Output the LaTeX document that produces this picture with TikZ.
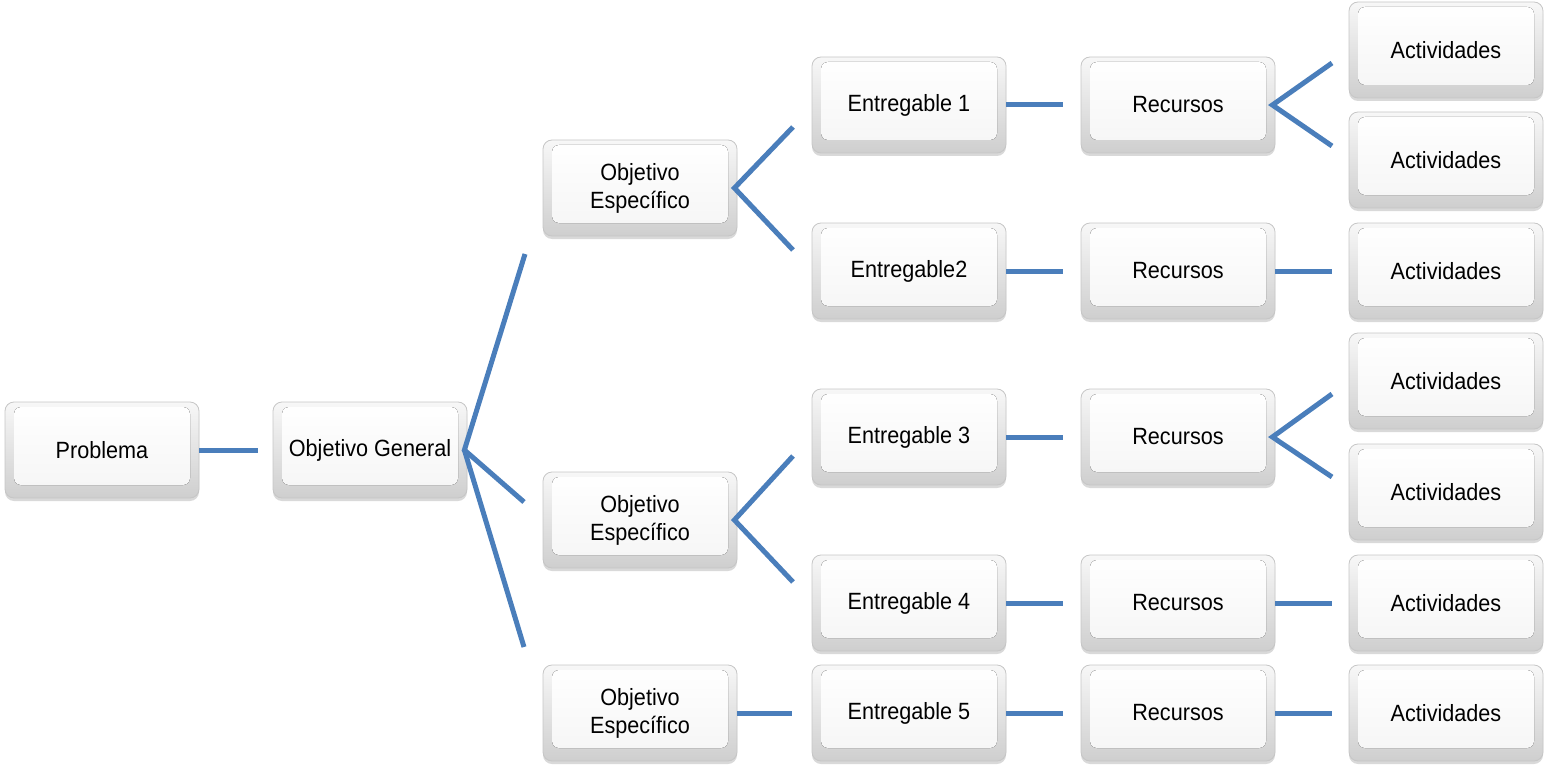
\documentclass[tikz,border=0pt]{standalone}
\usepackage{fontspec}
\setmainfont[FakeStretch=0.92]{Liberation Sans}
\usetikzlibrary{shadows}
\definecolor{linkblue}{RGB}{74,126,187}
\tikzset{
  key/.style={
    rounded corners=9pt, minimum width=194pt, minimum height=96pt,
    draw=gray!45, line width=0.8pt, top color=gray!6, bottom color=gray!38,
    align=center, inner sep=0pt,
    font=\fontsize{23.5}{28}\selectfont,
    drop shadow={shadow xshift=0pt, shadow yshift=-3pt, opacity=0.3},
    path picture={
      \fill[rounded corners=7pt, top color=white, bottom color=gray!8]
        ([shift={(9pt,-5pt)}]path picture bounding box.north west) rectangle
        ([shift={(-9pt,13pt)}]path picture bounding box.south east);
    }},
  link/.style={draw=linkblue, line width=5pt}
}
\begin{document}
\begin{tikzpicture}[x=1pt, y=-1pt]
\useasboundingbox (0,0) rectangle (1545,765);

% level 1 and 2
\node[key] (prob) at (102,450) {Problema};
\node[key] (og)   at (370,450) {Objetivo General};

% specific objectives
\node[key] (oe1) at (640,188) {Objetivo\\Específico};
\node[key] (oe2) at (640,520) {Objetivo\\Específico};
\node[key] (oe3) at (640,713) {Objetivo\\Específico};

% deliverables
\node[key] (e1) at (909,105) {Entregable 1};
\node[key] (e2) at (909,271) {Entregable2};
\node[key] (e3) at (909,437) {Entregable 3};
\node[key] (e4) at (909,603) {Entregable 4};
\node[key] (e5) at (909,713) {Entregable 5};

% resources
\node[key] (r1) at (1178,105) {Recursos};
\node[key] (r2) at (1178,271) {Recursos};
\node[key] (r3) at (1178,437) {Recursos};
\node[key] (r4) at (1178,603) {Recursos};
\node[key] (r5) at (1178,713) {Recursos};

% activities
\node[key] (a1) at (1446,50)  {Actividades};
\node[key] (a2) at (1446,160) {Actividades};
\node[key] (a3) at (1446,271) {Actividades};
\node[key] (a4) at (1446,381) {Actividades};
\node[key] (a5) at (1446,492) {Actividades};
\node[key] (a6) at (1446,603) {Actividades};
\node[key] (a7) at (1446,713) {Actividades};

% free ends of the fan-out connectors
\coordinate (og-t) at (525,254);
\coordinate (og-m) at (524,502);
\coordinate (og-b) at (524,647);
\coordinate (oe1-t) at (793,127);
\coordinate (oe1-b) at (793,250);
\coordinate (oe2-t) at (793,456);
\coordinate (oe2-b) at (793,582);
\coordinate (r1-t) at (1332,63);
\coordinate (r1-b) at (1332,146);
\coordinate (r3-t) at (1332,394);
\coordinate (r3-b) at (1332,477);

% straight connectors
\draw[link] (prob.east) -- ([xshift=-15pt]og.west);
\draw[link] (oe3.east) -- ([xshift=-20pt]e5.west);
\foreach \i in {1,...,5}{
  \draw[link] (e\i.east) -- ([xshift=-18pt]r\i.west);
}
\draw[link] (r2.east) -- ([xshift=-17pt]a3.west);
\draw[link] (r4.east) -- ([xshift=-17pt]a6.west);
\draw[link] (r5.east) -- ([xshift=-17pt]a7.west);

% fan-out connectors
\draw[link] (og-t) -- ([xshift=-3pt]og.east) -- (og-m);
\draw[link] ([xshift=-3pt]og.east) -- (og-b);
\draw[link] (oe1-t) -- ([xshift=-3pt]oe1.east) -- (oe1-b);
\draw[link] (oe2-t) -- ([xshift=-3pt]oe2.east) -- (oe2-b);
\draw[link] (r1-t) -- ([xshift=-3pt]r1.east) -- (r1-b);
\draw[link] (r3-t) -- ([xshift=-3pt]r3.east) -- (r3-b);
\end{tikzpicture}
\end{document}
